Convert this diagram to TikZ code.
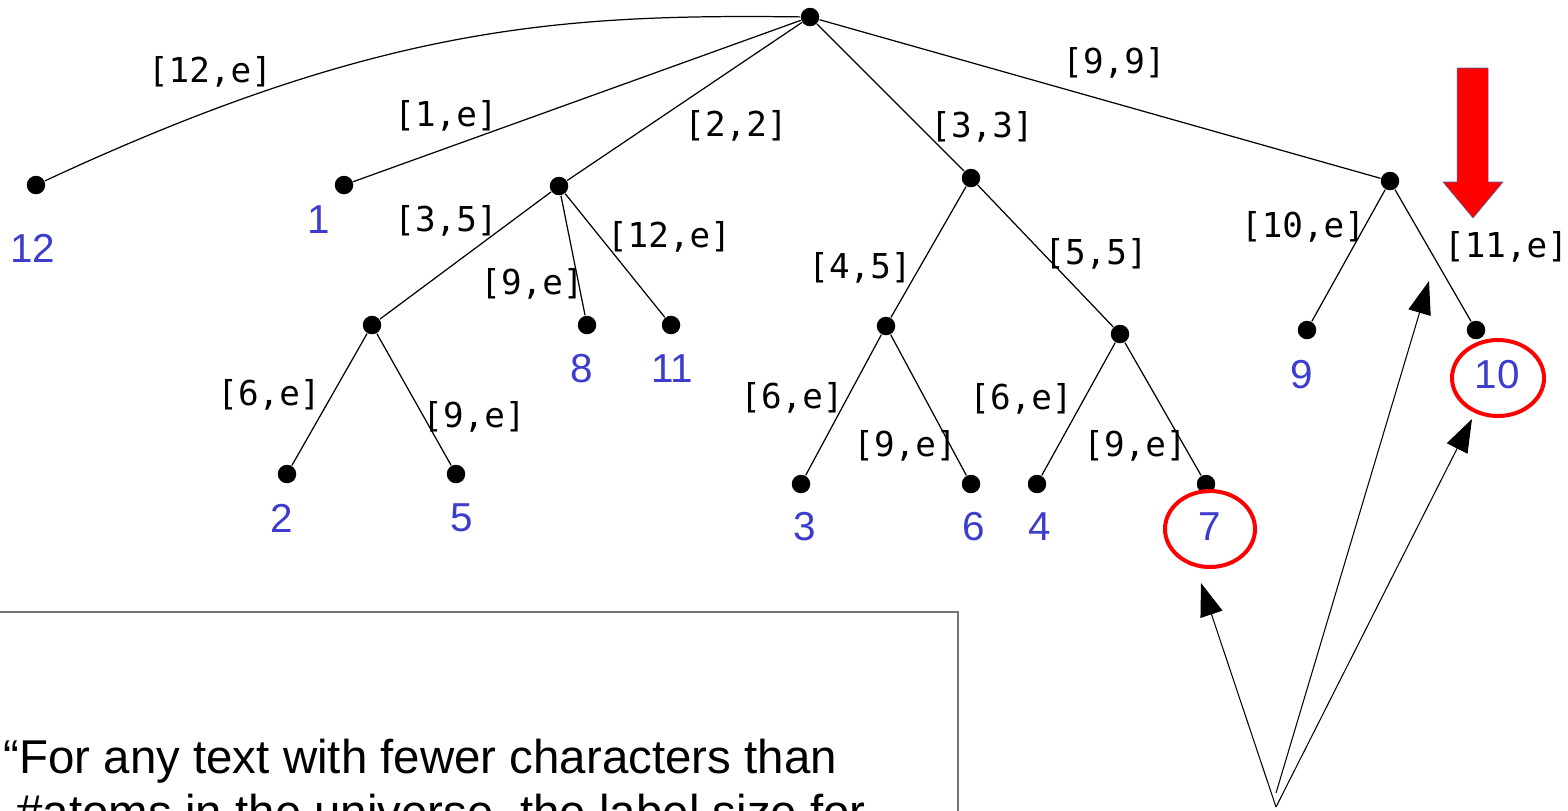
\documentclass[tikz,border=0pt]{standalone}
\usepackage{fontspec}
\setmainfont{Liberation Sans}
\newfontfamily\edgefont{DejaVu Sans Mono}
\usetikzlibrary{arrows.meta}

\definecolor{leafblue}{RGB}{60,60,205}
\definecolor{rimblue}{RGB}{70,100,170}

\tikzset{
  dot/.style={circle, fill=black, inner sep=0pt, minimum size=3.7mm},
  leaf/.style={text=leafblue, inner sep=0pt, font=\fontsize{23}{27}\selectfont},
  elab/.style={inner sep=0pt, font=\edgefont\fontsize{19.5}{24}\selectfont},
  quotetext/.style={anchor=base west, inner sep=0pt, font=\fontsize{27}{31}\selectfont},
  ring/.style={draw=red, line width=0.8mm},
  pointer/.style={line width=0.6pt, -{Triangle[length=6.6mm, width=4.6mm]}}
}

\begin{document}
\begin{tikzpicture}[x=0.2mm, y=-0.2mm, line width=0.7pt]
    \useasboundingbox (0,0) rectangle (1568,810);

    % inner vertices
    \node[dot] (root) at (810,17) {};
    \node[dot] (n22) at (559,186) {};
    \node[dot] (n35) at (372,325) {};
    \node[dot] (n33) at (971,178) {};
    \node[dot] (n45) at (886,326) {};
    \node[dot] (n55) at (1120,334) {};
    \node[dot] (n99) at (1390,181) {};

    % leaves with their suffix numbers
    \foreach \n/\x/\y/\lx/\ly in {12/36/185/33/248, 1/344/185/319/220,
        2/287/474/282/518, 5/456/474/462/518, 8/587/325/582/369, 11/671/325/672/369,
        3/801/484/805/527, 6/971/484/974/527, 4/1037/484/1040/527, 7/1206/484/1210/527,
        9/1307/330/1302/375, 10/1476/330/1497/375} {
        \node[dot] (d\n) at (\x,\y) {};
        \node[leaf] (l\n) at (\lx,\ly) {\n};
    }

    % edges
    \draw (root) .. controls (560,14) and (380,25) .. (d12);
    \foreach \a/\b in {root/d1, root/n22, root/n33, root/n99, n22/n35, n22/d8, n22/d11,
        n35/d2, n35/d5, n33/n45, n33/n55, n45/d3, n45/d6, n55/d4, n55/d7, n99/d9, n99/d10}
        \draw (\a) -- (\b);

    % edge intervals
    \foreach \x/\y/\t [count=\i] in {210/72/{[12,e]}, 446/116/{[1,e]}, 736/126/{[2,2]},
        1114/63/{[9,9]}, 982/127/{[3,3]}, 446/221/{[3,5]}, 532/284/{[9,e]},
        669/237/{[12,e]}, 860/268/{[4,5]}, 1096/254/{[5,5]}, 1303/227/{[10,e]},
        1506/247/{[11,e]}, 269/395/{[6,e]}, 474/417/{[9,e]}, 792/398/{[6,e]},
        905/446/{[9,e]}, 1021/399/{[6,e]}, 1135/446/{[9,e]}}
        \node[elab] (e\i) at (\x,\y) {\t};

    % marked leaves
    \draw[ring] (1210,529) ellipse (9mm and 7.6mm);
    \draw[ring] (1498,378) ellipse (9.2mm and 7.6mm);

    % big red arrow
    \filldraw[fill=red, draw=rimblue, line width=0.3pt] (1457,68) -- (1488,68) -- (1488,182)
        -- (1503,182) -- (1473,218) -- (1443,182) -- (1457,182) -- cycle;

    % pointers from below
    \coordinate (src) at (1276,807);
    \coordinate (src2) at (1276,793);
    \coordinate (t7) at (1201,583);
    \coordinate (t11) at (1429,281);
    \coordinate (t10) at (1472,419);
    \draw[pointer] (src) -- (t7);
    \draw[pointer] (src2) -- (t11);
    \draw[pointer] (src) -- (t10);

    % text box
    \draw[black!55, line width=0.8pt] (-10,612) rectangle (958,900);
    \node[quotetext] (q1) at (3,773) {“For any text with fewer characters than};
    \node[quotetext] (q2) at (16,828) {\#atoms in the universe, the label size for};
\end{tikzpicture}
\end{document}
